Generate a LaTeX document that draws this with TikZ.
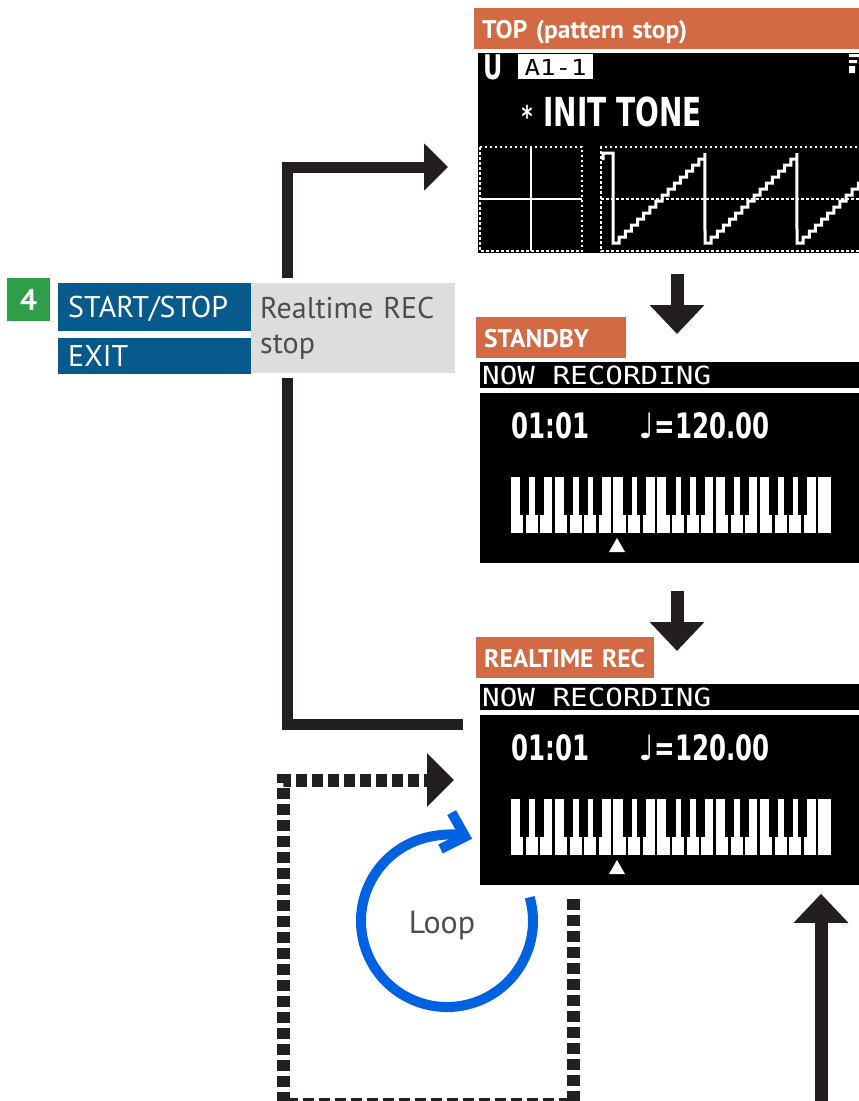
\documentclass[tikz,border=0pt]{standalone}
\usepackage{fontspec}
\setmainfont{PT Sans}
\newfontfamily\lcdfont[FakeStretch=1.17]{DejaVu Sans Mono}
\newfontfamily\lcdbold[FakeStretch=0.7]{DejaVu Sans}
\newfontfamily\notefont{DejaVu Sans}
\usepackage{xcolor}
\usepackage{tikz}
\usetikzlibrary{arrows.meta,positioning,calc}

\definecolor{tagorange}{RGB}{210,106,68}
\definecolor{keyblue}{RGB}{6,90,140}
\definecolor{stepgreen}{RGB}{46,158,74}
\definecolor{notegray}{RGB}{220,221,222}
\definecolor{textgray}{RGB}{77,77,79}
\definecolor{arrowblack}{RGB}{35,31,32}
\definecolor{loopblue}{RGB}{0,98,224}

\begin{document}
\begin{tikzpicture}[x=1pt,y=-1pt,
  tag/.style={anchor=north west,fill=tagorange,text=white,align=left,inner xsep=8pt,inner ysep=0pt,minimum height=41pt,text height=19pt,text depth=0pt,font=\fontsize{25.5}{30}\selectfont\bfseries},
  lcdbox/.style={anchor=north west,fill=black,inner sep=0pt,minimum width=381pt},
  lcdthin/.style={anchor=base west,text=white,inner sep=0pt,font=\lcdfont\fontsize{25}{25}\selectfont},
  lcdbig/.style={anchor=base west,text=white,inner sep=0pt,font=\lcdbold\bfseries\fontsize{35}{35}\selectfont},
  keybox/.style={anchor=north west,fill=keyblue,text=white,align=left,text width=173pt,inner xsep=10pt,inner ysep=0pt,text height=21pt,text depth=0pt,font=\fontsize{30}{35}\selectfont},
  notebox/.style={anchor=north west,fill=notegray,text=textgray,align=left,text width=186pt,inner xsep=9pt,inner ysep=0pt,minimum height=90pt,font=\fontsize{30}{35}\selectfont},
  numbox/.style={anchor=north west,fill=stepgreen,text=white,minimum width=43pt,minimum height=43pt,inner sep=0pt,font=\fontsize{30}{30}\selectfont\bfseries},
  gridline/.style={white,line width=2.5pt,dash pattern=on 2.5pt off 2.5pt},
  crossline/.style={white,line width=2.7pt},
  waveline/.style={white,line width=3pt},
  flowline/.style={arrowblack,line width=13pt},
  flowarrow/.style={flowline,-{Triangle[length=29pt,width=53pt]}},
  dotarrow/.style={arrowblack,line width=13pt,dash pattern=on 11pt off 5pt,-{Triangle[length=27pt,width=52pt]}},
  loopline/.style={loopblue,line width=10pt,-{Straight Barb[length=20pt,width=38pt]}},
  looptext/.style={text=textgray,font=\fontsize{32}{32}\selectfont}
]
\useasboundingbox (0,0) rectangle (859,1101);

\node[tag,text width=371pt] (toplbl) at (474,8) {TOP (pattern stop)};
\node[lcdbox,minimum width=383pt,minimum height=200pt] (topscr) at (478,53) {};
\node[tag,text width=134pt] (sbylbl) at (476,317) {STANDBY};
\node[tag,text width=162pt] (reallbl) at (476,637) {\mbox{REALTIME REC}};

\node[lcdbig,font=\lcdbold\bfseries\fontsize{34}{34}\selectfont] (ulbl) at (483,79) {U};
\node[anchor=north west,fill=white,minimum width=75pt,minimum height=25pt,inner sep=0pt,text height=17pt,text depth=0pt,font=\lcdfont\fontsize{22}{22}\selectfont] (patname) at (518,54) {A1-1};
\fill[white] (849,54) rectangle (859,57) (849,60) rectangle (857,63) (849,66) rectangle (855,73);
\node[lcdbig,anchor=center,font=\lcdbold\bfseries\fontsize{30}{30}\selectfont] (tonestar) at (527,116) {*};
\node[lcdbig,font=\lcdbold\bfseries\fontsize{40}{40}\selectfont] (tonename) at (543,126) {INIT TONE};

\draw[gridline] (480,147) rectangle (582,251);
\draw[crossline] (531,147) -- (531,251) (480,199) -- (582,199);
\draw[gridline] (862,147) -- (601,147) -- (601,251) -- (862,251) (601,199) -- (862,199);
\begin{scope}
  \clip (topscr.north west) rectangle (topscr.south east);
  \draw[waveline] (603,160) -- (603,153) -- (613,153) -- (613,243)
    \foreach \i in {1,...,15}{ -- ++(6.13,0) -- ++(0,-6) } -- (705,243)
    \foreach \i in {1,...,15}{ -- ++(6.13,0) -- ++(0,-6) } -- (797,243)
    \foreach \i in {1,...,15}{ -- ++(6.13,0) -- ++(0,-6) };
\end{scope}

\foreach \scr/\oy in {sby/0,real/322}{
  \node[lcdbox,minimum height=26pt] (\scr hdr) at (480,{362+\oy}) {};
  \node[lcdbox,minimum height=170pt,below=4pt of \scr hdr.south west,anchor=north west] (\scr scr) {};
  \node[lcdthin] (\scr title) at (482,{384+\oy}) {NOW RECORDING};
  \node[lcdbig] (\scr pos) at (511,{438+\oy}) {01:01};
  \node[lcdbig] (\scr tempo) at (638,{438+\oy}) {{\notefont\mdseries ♩}=120.00};
  \foreach \k in {0,...,21}
    \fill[white] ({511+\k*14.64},{477+\oy}) rectangle ++(12.1,56);
  \foreach \o in {0,1,2}
    \foreach \b in {1,2,4,5,6}
      \fill[black] ({510+(7*\o+\b)*14.64-4.6},{477+\oy}) rectangle ++(9.2,38);
  \fill[white] (617,{538+\oy}) -- (625,{552+\oy}) -- (609,{552+\oy}) -- cycle;
}

\coordinate (upbend) at (287,167);
\coordinate (lobend) at (287,724);
\coordinate (downx) at (677,0);
\coordinate (feedin) at (821,1101);
\coordinate (dotstart) at (573,899);
\coordinate (dotcorner) at (283,1104);
\coordinate (dotrow) at (283,780);
\coordinate (loopc) at (447,921);

\draw[flowarrow,line width=11pt,-{Triangle[length=24pt,width=46pt]}] (upbend |- 0,278) -- (upbend) -- ([xshift=-30pt]upbend -| topscr.west);
\draw[flowline,line width=11pt] (lobend |- 0,378) -- (lobend) -- ([xshift=-17pt]lobend -| realscr.west);
\draw[flowarrow] ([yshift=-21pt]topscr.south -| downx) -- ([yshift=28pt]sbyhdr.north -| downx);
\draw[flowarrow] ([yshift=-28pt]sbyscr.south -| downx) -- ([yshift=33pt]realhdr.north -| downx);
\draw[flowarrow] (feedin) -- ([yshift=-9pt]realscr.south -| feedin);
\draw[dotarrow] (dotstart) |- (dotcorner) -- (dotrow) -- ([xshift=-26pt]dotrow -| realscr.west);

\draw[loopline] ([shift={(-16:86)}]loopc) arc[start angle=-16,end angle=287,radius=86];
\node[looptext] (looplbl) at ([xshift=-5pt,yshift=-4pt]loopc) {Loop};

\node[numbox] (stepnum) at (7,278) {4};
\node[keybox,minimum height=48pt] (startkey) at (58,283) {START/STOP};
\node[keybox,minimum height=36pt,below=6pt of startkey.south west,anchor=north west] (exitkey) {EXIT};
\node[notebox] (keynote) at (251,283) {Realtime REC\\stop};
\end{tikzpicture}
\end{document}
